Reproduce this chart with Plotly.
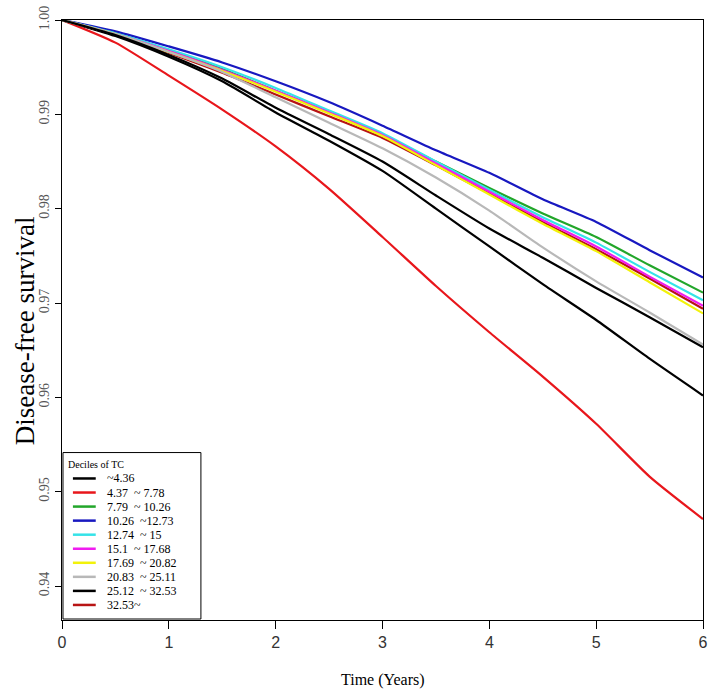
import plotly.graph_objects as go

# ---- data ----
years = [0, 0.5, 1, 1.5, 2, 2.5, 3, 3.5, 4, 4.5, 5, 5.5, 6]

labels = ["~4.36", "4.37  ~ 7.78", "7.79  ~ 10.26", "10.26  ~12.73", "12.74  ~ 15",
          "15.1  ~ 17.68", "17.69  ~ 20.82", "20.83  ~ 25.11", "25.12  ~ 32.53", "32.53~"]
colors = ["#000000", "#e8161b", "#22a62a", "#1818c0", "#35e3e8",
          "#f01cf0", "#f2f20a", "#b8b8b8", "#000000", "#b81414"]

surv_d1 = [1, .9983, .9961, .9935, .9902, .9872, .9840, .9800, .9760, .9720, .9682, .9641, .9602]
surv_d2 = [1, .9976, .9941, .9905, .9866, .9821, .9770, .9718, .9669, .9622, .9572, .9516, .9471]
surv_d3 = [1, .9986, .9968, .9948, .9925, .9902, .9878, .9850, .9822, .9795, .9770, .9740, .9711]
surv_d4 = [1, .9988, .9972, .9955, .9935, .9913, .9888, .9862, .9838, .9810, .9786, .9756, .9727]
surv_d5 = [1, .9986, .9969, .9950, .9928, .9904, .9880, .9850, .9820, .9791, .9764, .9733, .9703]
surv_d6 = [1, .9985, .9967, .9947, .9925, .9902, .9878, .9848, .9818, .9788, .9760, .9728, .9697]
surv_d7 = [1, .9985, .9966, .9946, .9924, .9901, .9877, .9846, .9815, .9784, .9755, .9722, .9689]
surv_d8 = [1, .9985, .9966, .9945, .9918, .9891, .9864, .9833, .9798, .9759, .9723, .9690, .9656]
surv_d9 = [1, .9984, .9963, .9938, .9907, .9879, .9850, .9814, .9779, .9748, .9716, .9685, .9653]
surv_d10 = [1, .9985, .9965, .9944, .9921, .9898, .9875, .9846, .9816, .9786, .9757, .9726, .9694]

series = [surv_d1, surv_d2, surv_d3, surv_d4, surv_d5, surv_d6, surv_d7, surv_d8, surv_d9, surv_d10]

y_ticks = [0.94, 0.95, 0.96, 0.97, 0.98, 0.99, 1.00]
x_ticks = [0, 1, 2, 3, 4, 5, 6]

fig = go.Figure()
# draw the last decile first so it sits under the cluster
draw_order = [9, 0, 1, 2, 3, 4, 5, 6, 7, 8]
for i in draw_order:
    fig.add_trace(go.Scatter(x=years, y=series[i], mode="lines", name=labels[i],
                             line=dict(color=colors[i], width=2.2, shape="spline", smoothing=0.6),
                             showlegend=False, hoverinfo="skip"))

W, H = 714, 694
L, R, T, B = 62, 6, 18, 74
pw, ph = W - L - R, H - T - B

def px(xs):  # screen x -> paper
    return (xs - L) / pw

def py(ys):  # screen y -> paper
    return (H - B - ys) / ph

shapes = []
annotations = []
# legend box
shapes.append(dict(type="rect", xref="paper", yref="paper",
                   x0=px(63), x1=px(202), y0=py(619), y1=py(452),
                   line=dict(color="black", width=1), fillcolor="white", layer="above"))
annotations.append(dict(xref="paper", yref="paper", x=px(66), y=py(464), text="Deciles of TC",
                        showarrow=False, xanchor="left", yanchor="middle",
                        font=dict(family="Liberation Serif", size=10, color="black")))
for i, lab in enumerate(labels):
    yy = 478 + 14.1 * i
    shapes.append(dict(type="line", xref="paper", yref="paper",
                       x0=px(73), x1=px(96), y0=py(yy), y1=py(yy),
                       line=dict(color=colors[i], width=2.5), layer="above"))
    annotations.append(dict(xref="paper", yref="paper", x=px(105), y=py(yy), text=lab,
                            showarrow=False, xanchor="left", yanchor="middle",
                            font=dict(family="Liberation Serif", size=12, color="black")))

annotations.append(dict(xref="paper", yref="paper", x=px(385), y=py(680), text="Time (Years)",
                        showarrow=False, xanchor="center", yanchor="middle",
                        font=dict(family="Liberation Serif", size=16, color="black")))
annotations.append(dict(xref="paper", yref="paper", x=px(25), y=py(330), text="Disease-free survival",
                        showarrow=False, xanchor="center", yanchor="middle", textangle=-90,
                        font=dict(family="Liberation Serif", size=27, color="black")))

fig.update_layout(
    width=W, height=H,
    margin=dict(l=L, r=R, t=T, b=B),
    paper_bgcolor="white", plot_bgcolor="white",
    showlegend=False,
    shapes=shapes, annotations=annotations,
    xaxis=dict(range=[0, 6], tickvals=x_ticks, ticktext=[str(v) for v in x_ticks],
               ticks="outside", ticklen=8, tickcolor="black", ticklabeloverflow="allow",
               showline=True, mirror=True, linecolor="black", linewidth=1,
               showgrid=False, zeroline=False,
               tickfont=dict(family="Liberation Sans", size=16, color="#333333")),
    yaxis=dict(range=[0.9364, 1.0], tickvals=y_ticks, ticktext=["%.2f" % v for v in y_ticks],
               ticks="outside", ticklen=6, tickcolor="black", tickangle=-90,
               ticklabeloverflow="allow",
               showline=True, mirror=True, linecolor="black", linewidth=1,
               showgrid=False, zeroline=False,
               tickfont=dict(family="Liberation Serif", size=14, color="#555555")),
)

# remove the default 8px page margin so the figure fills the window exactly
fig.write_html("out.html", config={"displayModeBar": False},
               post_script="document.body.style.margin='0px';document.body.style.overflow='hidden';")
